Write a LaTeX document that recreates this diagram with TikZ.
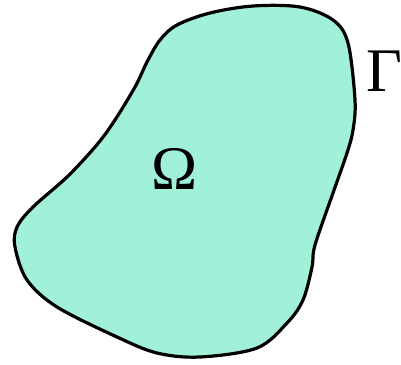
\documentclass[tikz,border=0pt]{standalone}
\usepackage{fontspec}
\setmainfont{Liberation Serif}
\definecolor{blobfill}{HTML}{A1F0DA}
\begin{document}
\begin{tikzpicture}[x=1pt,y=-1pt,
  region/.style={draw=black,line width=3.2pt,fill=blobfill,line join=round},
  greek/.style={font=\fontsize{62}{68}\selectfont,inner sep=0pt}]
\useasboundingbox (0,0) rectangle (401,364);
\draw[region] plot[smooth cycle,tension=0.55] coordinates {
  (177,25) (210,13) (253,6) (300,7) (333,20) (348,43) (355,100) (353,130)
  (347,153) (333,193) (315,245) (312,267) (303,300) (287,323) (257,348)
  (200,357) (157,353) (117,337) (57,307) (27,280) (15,247) (17,227)
  (33,207) (67,177) (95,147) (113,123) (135,87) (147,62) (160,40)};
\node[greek] (omega) at (175,169) {Ω};
\node[greek] (gamma) at (384,71) {Γ};
\end{tikzpicture}
\end{document}
